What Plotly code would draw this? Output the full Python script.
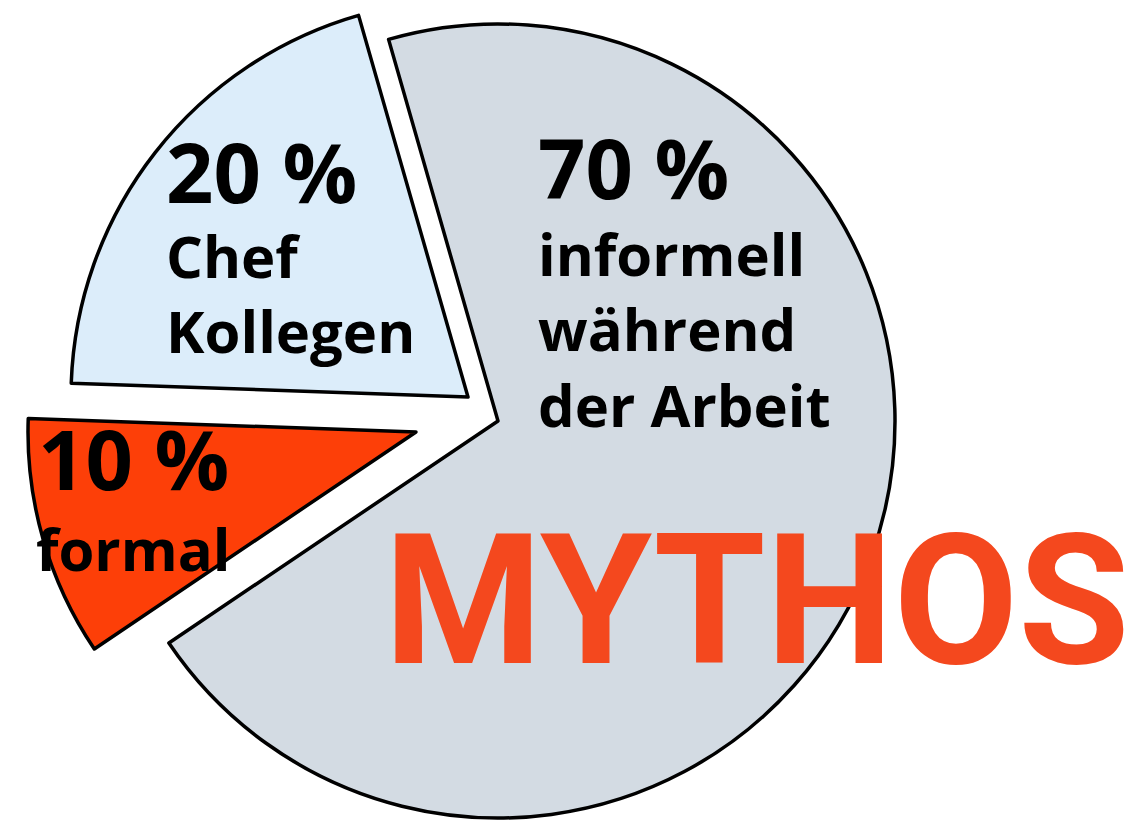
import plotly.graph_objects as go

# ---- data ----
labels = ["informell während der Arbeit", "formal", "Chef Kollegen"]
values = [70, 10, 20]
pct_text = ["70 %", "10 %", "20 %"]
desc_text = ["informell<br>während<br>der Arbeit", "formal", "Chef<br>Kollegen"]
colors = ["#d3dbe3", "#fd3f08", "#dcedfa"]
title_word = "MYTHOS"

W, H = 1131, 820

# exploded-slice geometry (pixel centre of each slice's pie, radius)
geo = [
    (498, 421, 397),   # 70 %
    (416, 432, 388),   # 10 %
    (468, 397, 397),   # 20 %
]


def dom(cx, cy, r):
    x0, x1 = (cx - r) / W, (cx + r) / W
    y0, y1 = 1 - (cy + r) / H, 1 - (cy - r) / H
    clamp = lambda v: max(0.0, min(1.0, v))
    return dict(x=[clamp(x0), clamp(x1)], y=[clamp(y0), clamp(y1)])


fig = go.Figure()
for i, (cx, cy, r) in enumerate(geo):
    cols = ["rgba(0,0,0,0)"] * len(values)
    cols[i] = colors[i]
    lw = [0] * len(values)
    lw[i] = 3.5
    fig.add_trace(go.Pie(
        labels=labels, values=values, sort=False, direction="clockwise",
        rotation=-16, textinfo="none", hoverinfo="skip",
        marker=dict(colors=cols, line=dict(color="black", width=lw)),
        domain=dom(cx, cy, r), showlegend=False,
    ))

FONT = "Open Sans"


def px(x, y):
    return x / W, 1 - y / H


ann = []
# percent labels
for txt, (x, y) in zip(pct_text, [(536, 108), (36, 399), (164, 112)]):
    ax, ay = px(x, y)
    ann.append(dict(text=txt, x=ax, y=ay, xref="paper", yref="paper",
                    xanchor="left", yanchor="top", showarrow=False, align="left",
                    font=dict(family=FONT, size=83, color="black", weight="bold")))
# descriptions
for txt, (x, y) in zip(desc_text, [(536, 212), (34, 507), (164, 214)]):
    ax, ay = px(x, y)
    ann.append(dict(text=txt, x=ax, y=ay, xref="paper", yref="paper",
                    xanchor="left", yanchor="top", showarrow=False, align="left",
                    font=dict(family=FONT, size=58, color="black", weight="bold")))
# big word
ax, ay = px(382, 493)
ann.append(dict(text=title_word, x=ax, y=ay, xref="paper", yref="paper",
                xanchor="left", yanchor="top", showarrow=False,
                font=dict(family="Roboto", size=181, color="#f4481e", weight="bold")))

fig.update_layout(
    width=W, height=H, margin=dict(l=0, r=0, t=0, b=0),
    paper_bgcolor="white", plot_bgcolor="white", annotations=ann,
)
fig.write_html(
    "out.html",
    config={"displayModeBar": False},
    post_script="document.body.style.margin='0';document.body.style.overflow='hidden';",
)
